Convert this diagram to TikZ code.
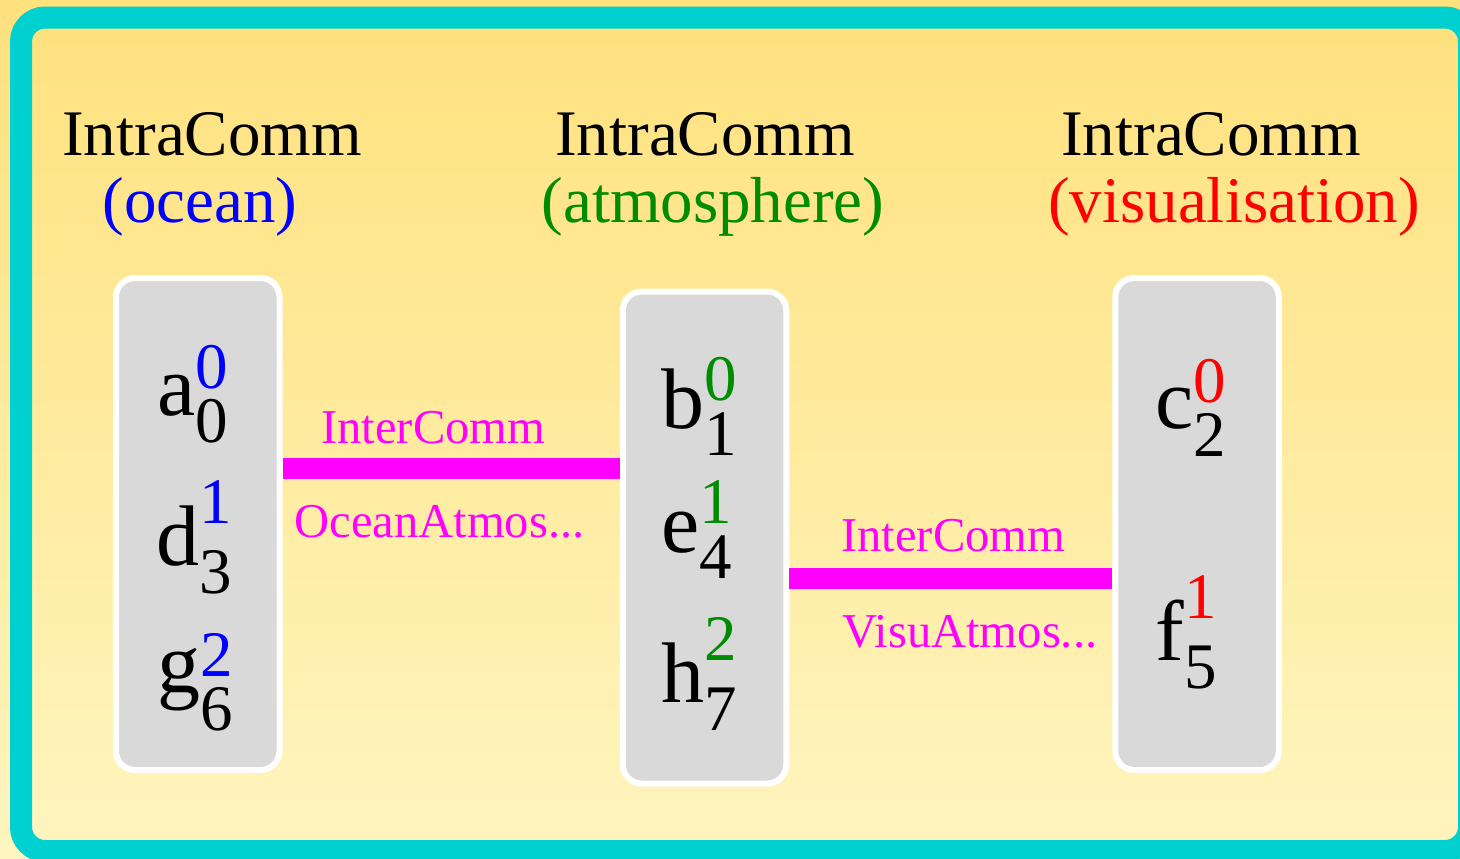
\documentclass[tikz,border=0pt]{standalone}
\usepackage{fontspec}
\setmainfont{Liberation Serif}
\definecolor{bgtop}{RGB}{255,225,125}
\definecolor{bgbot}{RGB}{255,245,192}
\definecolor{framecyan}{RGB}{0,208,208}
\definecolor{boxgray}{RGB}{217,217,217}
\definecolor{ocn}{RGB}{0,0,255}
\definecolor{atm}{RGB}{0,140,0}
\definecolor{vis}{RGB}{255,0,0}
\definecolor{mag}{RGB}{255,0,255}
\newcommand\scriptfnt{\fontsize{32.5}{32.5}\selectfont}
% base, sub, sup, colour, raise(pt), lower(pt)
\newcommand\procent[6]{#1\rlap{\raisebox{#5pt}{\scriptfnt\color{#4}#3}}\raisebox{-#6pt}{\scriptfnt #2}}
\begin{document}
\begin{tikzpicture}[x=0.5pt,y=-0.5pt,
  title/.style={anchor=base,inner sep=0pt,font=\fontsize{32.5}{32.5}\selectfont},
  commbox/.style={draw=white,line width=3pt,fill=boxgray,rounded corners=9.5pt,
    minimum width=81.75pt,minimum height=246pt,inner sep=0pt},
  procnode/.style={anchor=base west,inner sep=0pt,font=\fontsize{43}{43}\selectfont},
  link/.style={draw=mag,line width=10.5pt},
  linklabel/.style={anchor=base west,inner sep=0pt,text=mag,font=\fontsize{24.3}{24.3}\selectfont}]
\useasboundingbox (0,0) rectangle (1460,858);
\clip (0,0) rectangle (1460,858);
\shade[top color=bgtop,bottom color=bgbot] (0,0) rectangle (1460,858);
\draw[framecyan,line width=11pt,rounded corners=12pt] (21,17.5) rectangle (1469,851);

% titles
\node[title] (t1a) at (212,155) {IntraComm};
\node[title,text=ocn] (t1b) at (200,222) {(ocean)};
\node[title] (t2a) at (705,155) {IntraComm};
\node[title,text=atm] (t2b) at (713,222) {(atmosphere)};
\node[title] (t3a) at (1211,155) {IntraComm};
\node[title,text=vis] (t3b) at (1234,222) {(visualisation)};

% boxes
\node[commbox] (b1) at (197.75,524) {};
\node[commbox] (b2) at (704.5,537.5) {};
\node[commbox] (b3) at (1197,524) {};

% connectors
\coordinate (l1) at (0,468.5);
\coordinate (l2) at (0,578.5);
\draw[link] (b1.east |- l1) -- (b2.west |- l1);
\draw[link] (b2.east |- l2) -- (b3.west |- l2);
\node[linklabel] (i1) at (321,443) {InterComm};
\node[linklabel] (o1) at (294,537) {OceanAtmos...};
\node[linklabel] (i2) at (841,551) {InterComm};
\node[linklabel] (v2) at (842,647) {VisuAtmos...};

% processes
\node[procnode] (pa) at (157,415) {\procent{a}{0}{0}{ocn}{13.5}{13.5}};
\node[procnode] (pd) at (156,565) {\procent{d}{3}{1}{ocn}{21}{14}};
\node[procnode] (pg) at (157,692) {\procent{g}{6}{2}{ocn}{8}{19}};
\node[procnode] (pb) at (661,428) {\procent{b}{1}{0}{atm}{14}{13.5}};
\node[procnode] (pe) at (661,552) {\procent{e}{4}{1}{atm}{14.5}{13}};
\node[procnode] (ph) at (661,702) {\procent{h}{7}{2}{atm}{21}{14}};
\node[procnode] (pc) at (1155,428) {\procent{c}{2}{0}{vis}{13}{14}};
\node[procnode] (pf) at (1155,660) {\procent{f}{5}{1}{vis}{21}{14}};
\end{tikzpicture}
\end{document}
